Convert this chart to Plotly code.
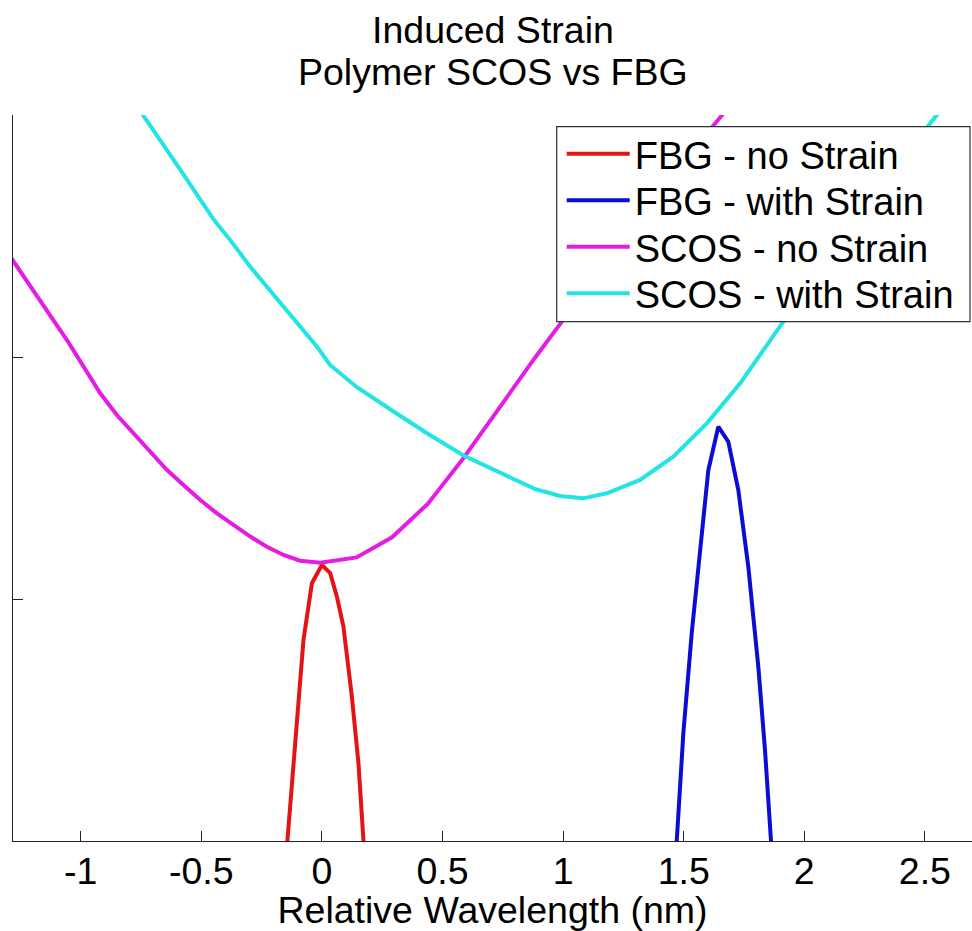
import plotly.graph_objects as go

# ---- data (relative wavelength in nm, normalised intensity) ----
fbg_no_x = [-0.151, -0.1426, -0.1036, -0.0763, -0.0414, 0.0, 0.0344, 0.0622, 0.0895, 0.1243, 0.1517, 0.1724, 0.179]
fbg_no_y = [-0.10, 0.004, 0.459, 0.831, 1.065, 1.140, 1.107, 1.010, 0.885, 0.596, 0.321, 0.004, -0.10]

fbg_st_x = [1.465, 1.4712, 1.4986, 1.5334, 1.5649, 1.6022, 1.6436, 1.6850, 1.7265, 1.7679, 1.8094, 1.8371, 1.8620, 1.8686]
fbg_st_y = [-0.10, 0.0, 0.446, 0.860, 1.175, 1.533, 1.712, 1.650, 1.450, 1.133, 0.720, 0.376, 0.0, -0.10]

scos_no_x = [-1.35, -1.278, -1.195, -1.126, -1.057, -0.988, -0.919, -0.850, -0.781, -0.712,
             -0.642, -0.574, -0.504, -0.435, -0.366, -0.297, -0.228, -0.159, -0.090, -0.007,
             0.144, 0.291, 0.439, 0.587, 0.735, 0.882, 0.995, 1.15, 1.35, 1.50, 1.651, 1.75]
scos_no_y = [2.50, 2.394, 2.277, 2.174, 2.070, 1.960, 1.850, 1.760, 1.685, 1.609,
             1.533, 1.471, 1.409, 1.354, 1.306, 1.258, 1.216, 1.182, 1.158, 1.150,
             1.172, 1.255, 1.393, 1.582, 1.789, 1.995, 2.146, 2.36, 2.62, 2.81, 2.99, 3.11]

scos_st_x = [-0.80, -0.742, -0.595, -0.447, -0.380, -0.297, -0.228, -0.159, -0.090, -0.021,
             0.034, 0.144, 0.291, 0.439, 0.587, 0.735, 0.882, 0.988, 1.084, 1.181,
             1.319, 1.457, 1.596, 1.734, 1.872, 1.913, 2.10, 2.30, 2.549, 2.65]
scos_st_y = [3.10, 3.0, 2.786, 2.566, 2.483, 2.373, 2.290, 2.208, 2.125, 2.043,
             1.967, 1.876, 1.779, 1.683, 1.593, 1.524, 1.455, 1.426, 1.416, 1.437,
             1.492, 1.588, 1.726, 1.891, 2.084, 2.146, 2.41, 2.68, 3.0, 3.12]

x_ticks = [-1, -0.5, 0, 0.5, 1, 1.5, 2, 2.5]
x_tick_labels = ["-1", "-0.5", "0", "0.5", "1", "1.5", "2", "2.5"]
y_ticks = [0, 1, 2, 3]

series = [
    ("FBG - no Strain", fbg_no_x, fbg_no_y, "#e31414"),
    ("FBG - with Strain", fbg_st_x, fbg_st_y, "#0c0cd2"),
    ("SCOS - no Strain", scos_no_x, scos_no_y, "#e41ce4"),
    ("SCOS - with Strain", scos_st_x, scos_st_y, "#22e4e4"),
]

FONT = "Arial, 'Liberation Sans', sans-serif"
TXT = 37.5
W, H = 972, 931
ML, MR, MT, MB = 13, 0, 115, 90
PW, PH = W - ML - MR, H - MT - MB


def px_x(p):
    """pixel column -> paper x"""
    return (p - ML) / PW


def px_y(p):
    """pixel row -> paper y"""
    return (H - MB - p) / PH


# legend box (pixels) and the row pitch inside it
BOX_L, BOX_R, BOX_T, BOX_B = 556.7, 970.0, 126.7, 321.7
ROW0, ROW_PITCH = 154.0, 46.5

fig = go.Figure()
legend_layout = {}
for i, (name, xs, ys, col) in enumerate(series):
    key = "legend" if i == 0 else f"legend{i + 1}"
    fig.add_trace(go.Scatter(x=xs, y=ys, mode="lines", name=name,
                             line=dict(color=col, width=4), legend=key))
    # one legend per row so that the row pitch can be set exactly
    legend_layout[key] = dict(
        x=px_x(BOX_L + 5), y=px_y(ROW0 + i * ROW_PITCH),
        xanchor="left", yanchor="middle",
        bgcolor="rgba(0,0,0,0)", borderwidth=0,
        font=dict(size=38, color="black"), itemwidth=63,
    )

axis_common = dict(showline=True, linecolor="#222", linewidth=1.2, mirror=False,
                   ticks="inside", ticklen=10, tickcolor="#222", tickwidth=1,
                   showgrid=False, zeroline=False)

fig.update_layout(
    width=W, height=H,
    margin=dict(l=ML, r=MR, t=MT, b=MB, autoexpand=False),
    paper_bgcolor="white", plot_bgcolor="white",
    font=dict(family=FONT, size=TXT, color="black"),
    xaxis=dict(range=[-1.2806, 2.6953], tickmode="array", tickvals=x_ticks,
               ticktext=x_tick_labels, tickfont=dict(size=TXT), ticklabelstandoff=-3,
               title=dict(text="Relative Wavelength (nm)", font=dict(size=TXT), standoff=9),
               **axis_common),
    yaxis=dict(range=[0, 3], tickmode="array", tickvals=y_ticks,
               showticklabels=False, **axis_common),
    showlegend=True,
    shapes=[
        dict(type="rect", xref="paper", yref="paper", layer="above",
             x0=px_x(BOX_L), x1=px_x(BOX_R), y0=px_y(BOX_B), y1=px_y(BOX_T),
             fillcolor="white", line=dict(color="#333", width=1.2)),
    ],
    annotations=[
        dict(text="Induced Strain", xref="paper", yref="paper", x=0.5, y=px_y(30),
             xanchor="center", yanchor="middle", showarrow=False, font=dict(size=TXT)),
        dict(text="Polymer SCOS vs FBG", xref="paper", yref="paper", x=0.5, y=px_y(72),
             xanchor="center", yanchor="middle", showarrow=False, font=dict(size=TXT)),
    ],
    **legend_layout,
)

fig.write_html("out.html")
